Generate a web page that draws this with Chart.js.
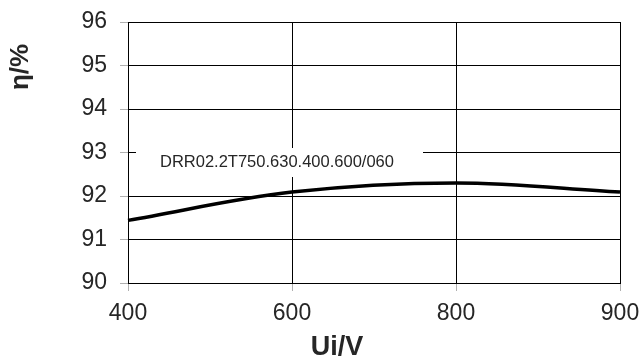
<!DOCTYPE html>
<html>
<head>
<meta charset="utf-8">
<script src="https://cdn.jsdelivr.net/npm/chart.js@4"></script>
<style>
  body { margin: 0; background: #fff; }
  #wrap { width: 641px; height: 356px; }
</style>
</head>
<body>
<div id="wrap"><canvas id="chart"></canvas></div>
<script>
// data
const voltages = ["400", "600", "800", "900"];
const efficiency = [91.44, 92.09, 92.3, 92.09];
const seriesName = "DRR02.2T750.630.400.600/060";
const yTitle = "η/%";
const xTitle = "Ui/V";

const FONT = "'Liberation Sans', Arial, sans-serif";

// white label box over the gridlines, plus the two axis titles
const labelsPlugin = {
  id: "labels",
  beforeDatasetsDraw(chart) {
    const ctx = chart.ctx;
    const a = chart.chartArea;
    ctx.save();
    ctx.fillStyle = "#fff";
    ctx.fillRect(a.left + 8, 148, 287, 29);
    ctx.fillStyle = "#262626";
    ctx.font = "16.5px " + FONT;
    ctx.textBaseline = "middle";
    ctx.fillText(seriesName, a.left + 32, 162);
    ctx.restore();
  },
  afterDraw(chart) {
    const ctx = chart.ctx;
    ctx.save();
    ctx.fillStyle = "#262626";
    ctx.font = "bold 27px " + FONT;
    ctx.textAlign = "center";
    ctx.textBaseline = "alphabetic";
    ctx.fillText(xTitle, 337, 355);
    ctx.translate(28, 67);
    ctx.rotate(-Math.PI / 2);
    ctx.font = "bold 26px " + FONT;
    ctx.fillText(yTitle, 0, 0);
    ctx.restore();
  }
};

const chart = new Chart(document.getElementById("chart"), {
  type: "line",
  data: {
    labels: voltages,
    datasets: [{
      label: seriesName,
      data: efficiency,
      borderColor: "#000",
      borderWidth: 3.5,
      pointRadius: 0,
      tension: 0.35,
      fill: false
    }]
  },
  options: {
    responsive: true,
    maintainAspectRatio: false,
    animation: false,
    devicePixelRatio: 1,
    layout: { padding: { top: 22, right: 21, left: 0, bottom: 0 } },
    plugins: {
      legend: { display: false },
      tooltip: { enabled: false }
    },
    scales: {
      x: {
        offset: false,
        afterFit(scale) {
          scale.height = 73;
          scale.paddingLeft = 0;
          scale.paddingRight = 0;
        },
        grid: { color: "#000", lineWidth: 1, tickColor: "#b0b0b0", tickLength: 8 },
        border: { color: "#000", width: 1 },
        ticks: { color: "#262626", font: { family: FONT, size: 23 }, padding: 9, maxRotation: 0 }
      },
      y: {
        min: 90,
        max: 96,
        afterFit(scale) {
          scale.width = 128;
          scale.paddingTop = 0;
          scale.paddingBottom = 0;
        },
        grid: { color: "#000", lineWidth: 1, tickColor: "#b0b0b0", tickLength: 8 },
        border: { color: "#000", width: 1 },
        ticks: { stepSize: 1, color: "#262626", font: { family: FONT, size: 23 }, padding: 13 }
      }
    }
  },
  plugins: [labelsPlugin]
});
</script>
</body>
</html>
